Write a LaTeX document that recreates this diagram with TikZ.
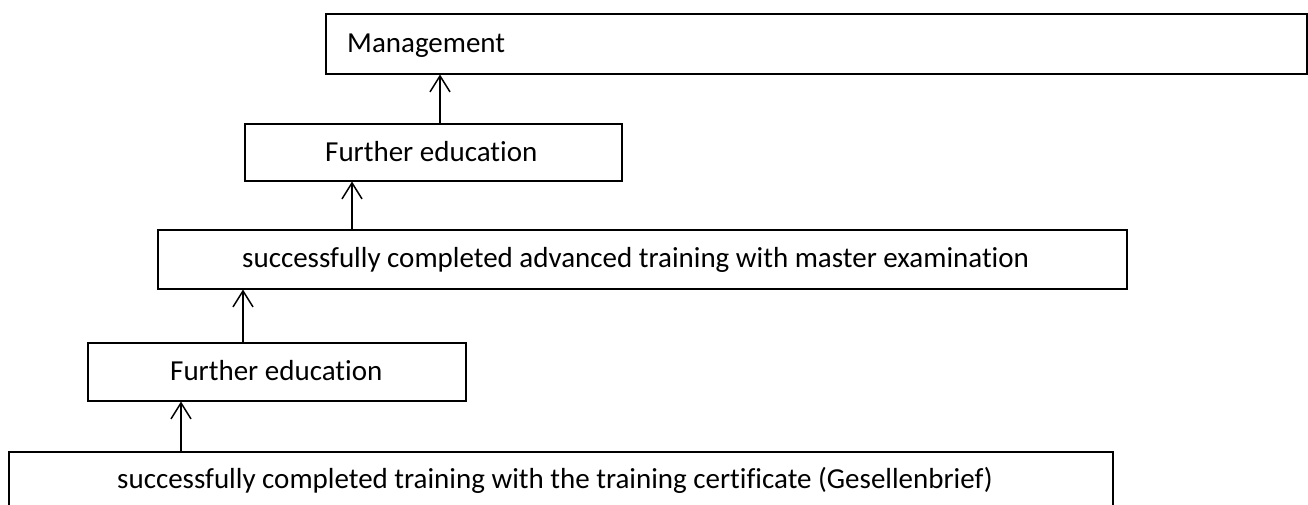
\documentclass[tikz,border=0pt]{standalone}
\usepackage{fontspec}
\setmainfont{Carlito}[Ligatures={NoCommon}]
\usetikzlibrary{arrows.meta}
\begin{document}
\begin{tikzpicture}[x=1pt,y=-1pt,
  box/.style={draw, line width=1.5pt, rectangle, inner sep=0pt, anchor=north west},
  lbl/.style={anchor=base west, inner sep=0pt, font=\fontsize{29}{34}\selectfont},
  arr/.style={line width=1.5pt, -{Straight Barb[length=16pt,width=20pt,line width=1.5pt]}}]
\useasboundingbox[fill=white] (0,0) rectangle (1308,504);
\node[box, minimum width=981pt, minimum height=60pt] (m) at (325,13) {};
\node[lbl] (mt) at (347,52) {Management};
\node[box, minimum width=377pt, minimum height=57pt] (fe1) at (244,123) {};
\node[lbl] (fe1t) at (325,161) {Further education};
\node[box, minimum width=969pt, minimum height=59pt] (adv) at (157,229) {};
\node[lbl] (advt) at (242,267) {successfully completed advanced training with master examination};
\node[box, minimum width=378pt, minimum height=58pt] (fe2) at (87,342) {};
\node[lbl] (fe2t) at (170,380) {Further education};
\node[box, minimum width=1104pt, minimum height=56pt] (bot) at (8,451) {};
\node[lbl] (bott) at (117,488) {successfully completed training with the training certificate (Gesellenbrief)};
\path (fe1.north west) ++(196,0) coordinate (a1);
\draw[arr] (a1) -- (a1 |- m.south);
\path (adv.north west) ++(195,0) coordinate (a2);
\draw[arr] (a2) -- (a2 |- fe1.south);
\path (fe2.north west) ++(156,0) coordinate (a3);
\draw[arr] (a3) -- (a3 |- adv.south);
\path (bot.north west) ++(173,0) coordinate (a4);
\draw[arr] (a4) -- (a4 |- fe2.south);
\end{tikzpicture}
\end{document}
